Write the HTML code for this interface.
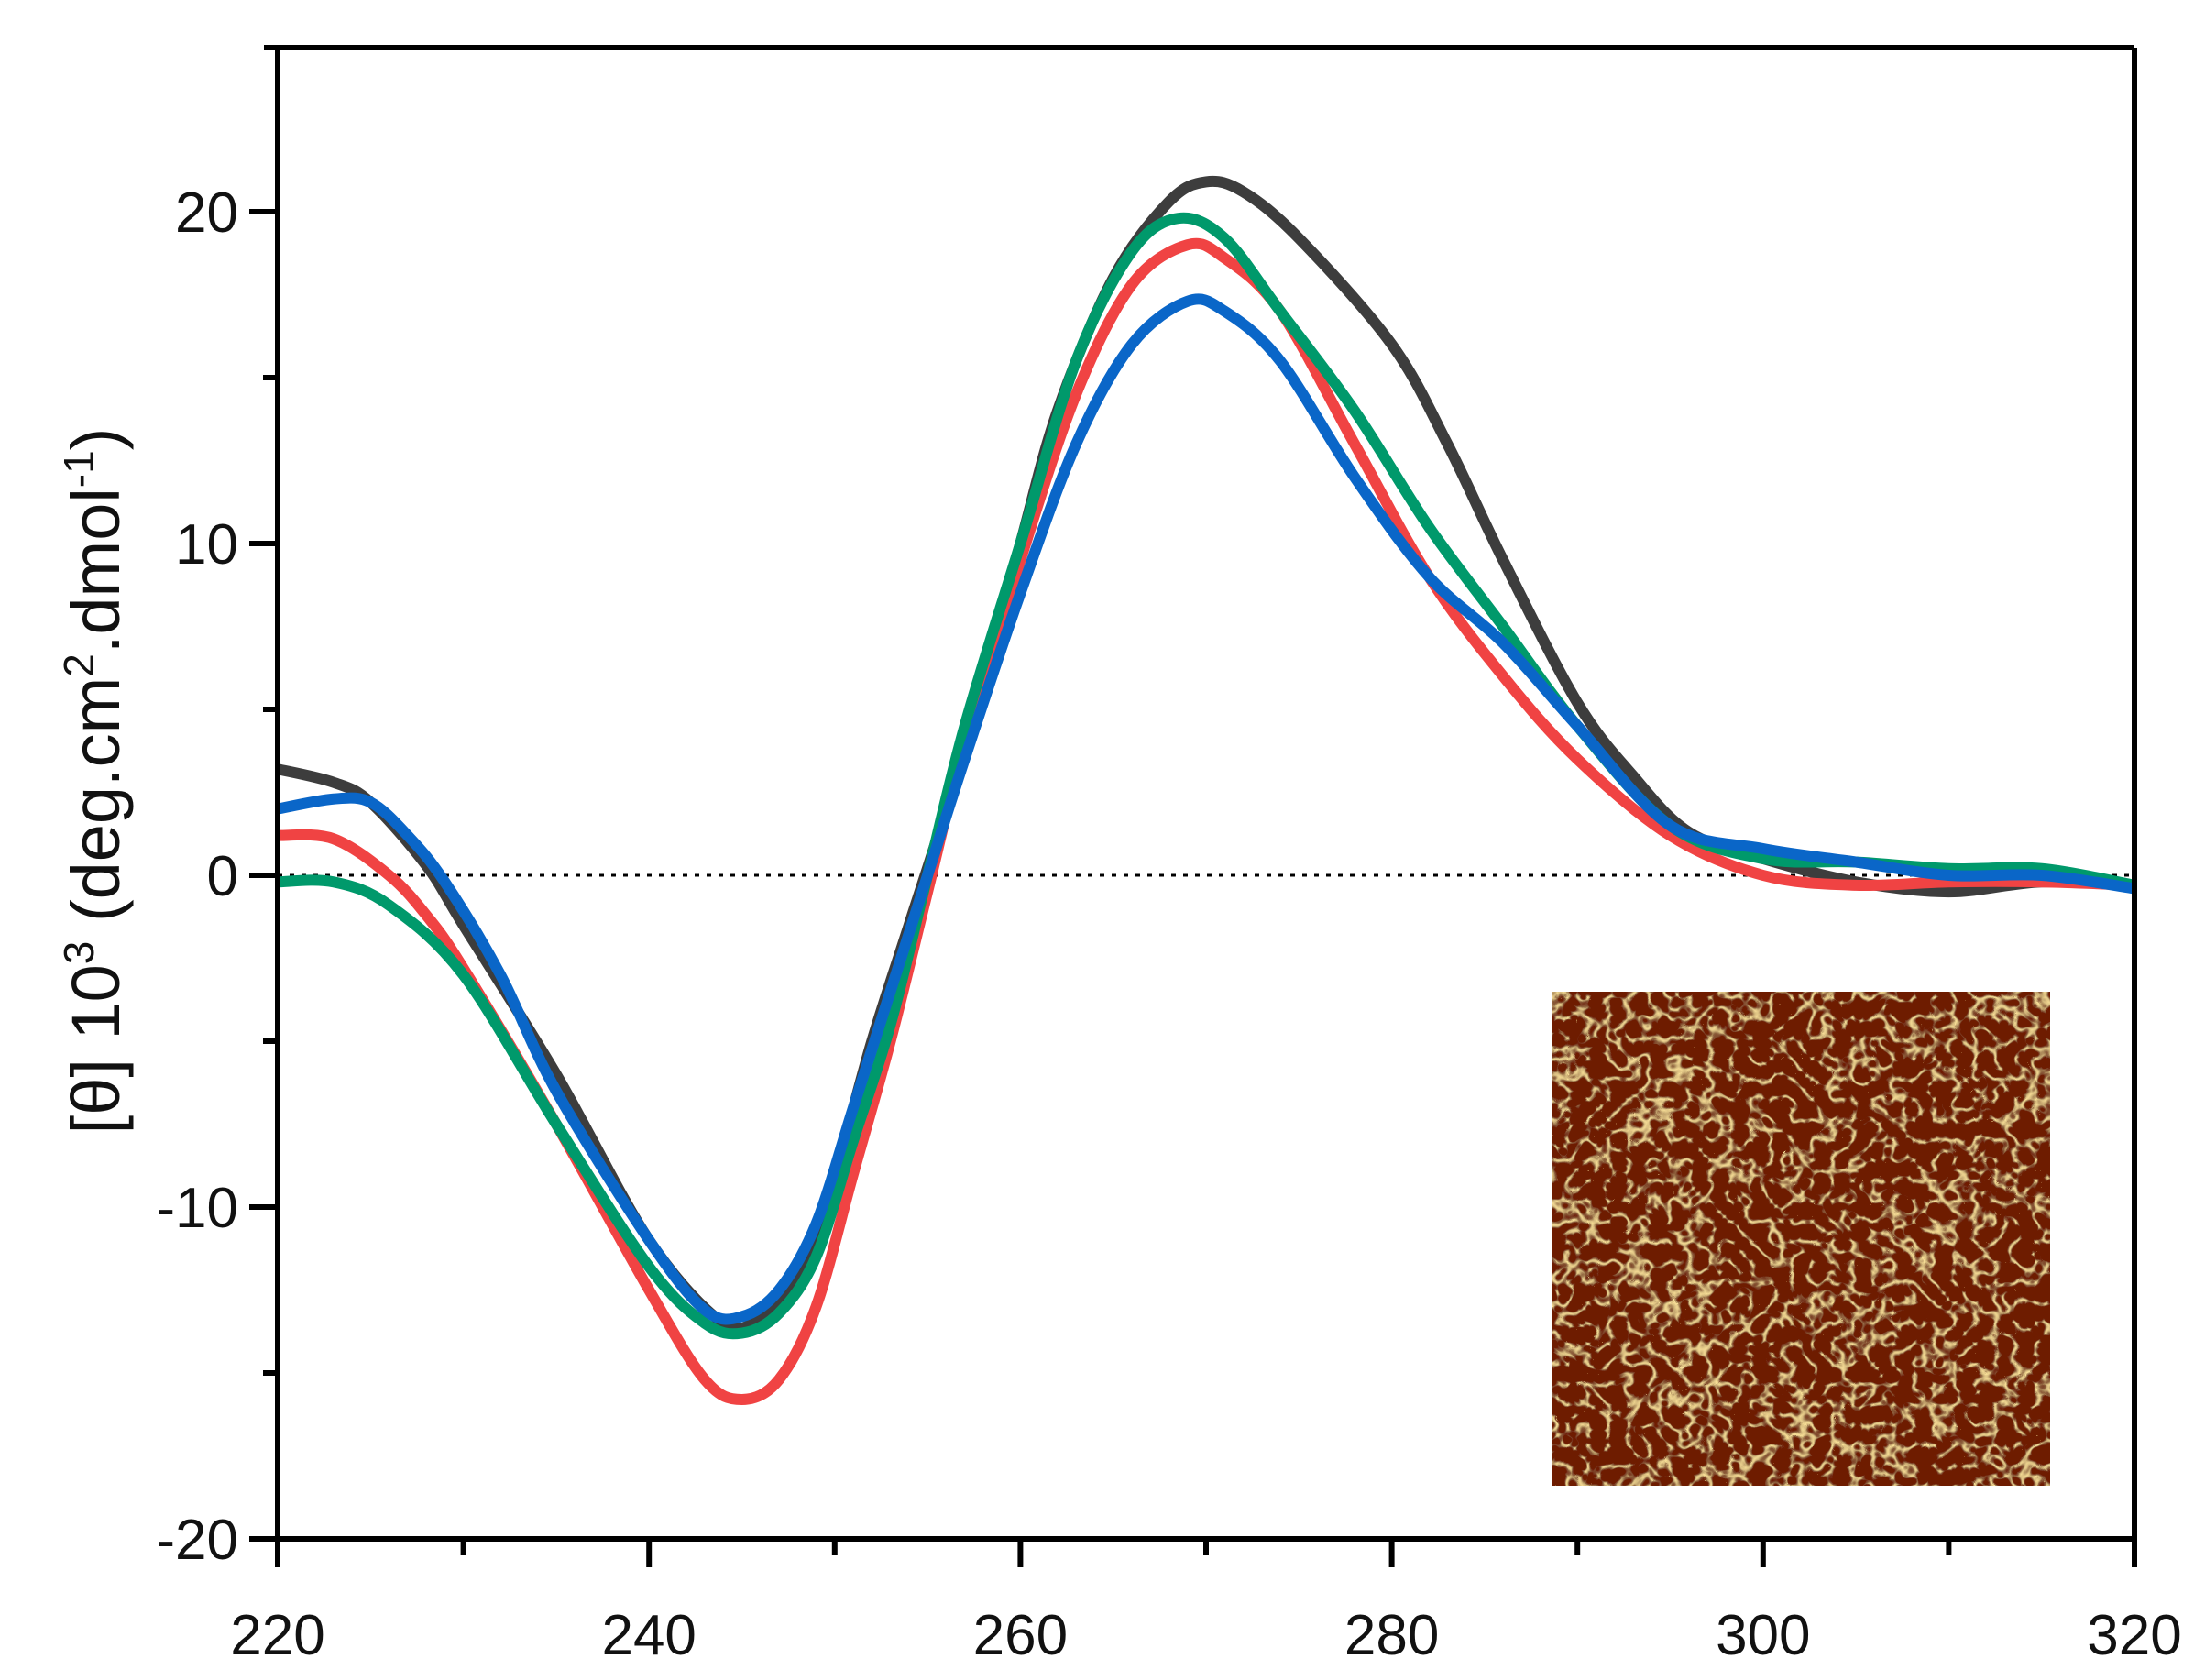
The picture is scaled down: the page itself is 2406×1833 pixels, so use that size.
<!DOCTYPE html>
<html><head><meta charset="utf-8"><style>
html,body{margin:0;padding:0;background:#fff;}
svg{display:block;}
text{font-family:"Liberation Sans",sans-serif;fill:#111;}
</style></head><body>
<svg id="s" width="2406" height="1833" viewBox="0 0 2406 1833" xmlns="http://www.w3.org/2000/svg">
<defs>
<filter id="net" x="0" y="0" width="100%" height="100%">
<feTurbulence type="turbulence" baseFrequency="0.045" numOctaves="2" seed="7" result="t"/>
<feColorMatrix in="t" type="matrix" values="0 0 0 0 0  0 0 0 0 0  0 0 0 0 0  1.3 0 0 0 0" result="a"/>
<feComponentTransfer in="a" result="b"><feFuncA type="table" tableValues="1 0.7 0.15 0 0 0 0 0 0 0 0 0"/></feComponentTransfer>
<feFlood flood-color="#f5dc95" result="c"/>
<feComposite in="c" in2="b" operator="in" result="d"/>
<feFlood flood-color="#6e1e05" result="bg"/>
<feMerge><feMergeNode in="bg"/><feMergeNode in="d"/></feMerge>
</filter>
</defs>
<rect x="1694" y="1082" width="543" height="539" filter="url(#net)"/>
<g id="g"></g>
</svg>
<script>
var X0=303,X1=2329,Y0=955,SY=36.2;
function px(x){return X0+(x-220)*(X1-X0)/100;}
function py(y){return Y0-y*SY;}
var g=document.getElementById('g'),NS='http://www.w3.org/2000/svg';
function el(t,a,txt){var e=document.createElementNS(NS,t);for(var k in a)e.setAttribute(k,a[k]);if(txt!==undefined)e.textContent=txt;g.appendChild(e);return e;}
el('line',{x1:X0,y1:Y0,x2:X1,y2:Y0,stroke:'#000','stroke-width':3,'stroke-dasharray':'5 8'});
var data={
'#3d3d3d':[[220,3.2],[223,2.8],[225,2.2],[228,0.3],[230,-1.5],[235,-6],[240,-11],[244,-13.5],[246,-13.3],[248,-12],[250,-9],[252,-5],[254,-1.5],[256,2],[258,6],[260,10],[262,14],[265,18],[268,20.3],[270,20.9],[272,20.6],[275,19.2],[280,16],[283,13],[286,9.5],[290,5.2],[293,3],[296,1.3],[300,0.5],[305,-0.2],[310,-0.5],[315,-0.2],[320,-0.3]],
'#f04343':[[220,1.2],[223,1.1],[226,0],[228,-1.2],[230,-2.8],[235,-7.5],[240,-12.5],[243,-15.2],[245,-15.8],[247,-15.2],[249,-13],[251,-9],[253,-5],[255,-0.5],[257,4],[260,9.5],[263,14.5],[266,17.8],[269,19],[271,18.6],[274,17],[278,13],[282,9],[286,6],[290,3.5],[295,1.2],[300,0],[305,-0.3],[310,-0.2],[315,-0.2],[320,-0.3]],
'#00996b':[[220,-0.2],[223,-0.2],[226,-0.9],[230,-3],[235,-7.5],[240,-11.8],[243,-13.5],[245,-13.8],[247,-13.2],[249,-11.5],[251,-8],[253,-4.5],[255,0],[257,4.5],[260,10],[263,15.5],[266,18.8],[268.5,19.8],[271,19.2],[274,17],[278,14],[282,10.5],[286,7.5],[290,4.5],[295,1.5],[300,0.5],[305,0.4],[310,0.2],[315,0.2],[320,-0.3]],
'#0a66c8':[[220,2.0],[223,2.3],[225,2.2],[227,1.2],[229,-0.2],[232,-3],[235,-6.5],[240,-11],[243,-13.1],[245,-13.3],[247,-12.5],[249,-10.5],[251,-7],[253,-3.5],[255,0],[257,3.5],[260,8.5],[263,13],[266,16],[269,17.3],[271,17],[274,15.5],[278,12],[282,9],[286,7],[290,4.5],[295,1.5],[300,0.8],[305,0.4],[310,0],[315,0],[320,-0.4]]
};
function path(pts){var p=pts.map(function(q){return [px(q[0]),py(q[1])];});var d='M'+p[0][0]+','+p[0][1];
for(var i=0;i<p.length-1;i++){var a=p[i-1]||p[i],b=p[i],c=p[i+1],e=p[i+2]||c;
d+=' C'+(b[0]+(c[0]-a[0])/6)+','+(b[1]+(c[1]-a[1])/6)+' '+(c[0]-(e[0]-b[0])/6)+','+(c[1]-(e[1]-b[1])/6)+' '+c[0]+','+c[1];}return d;}
['#3d3d3d','#f04343','#00996b','#0a66c8'].forEach(function(c){el('path',{d:path(data[c]),fill:'none',stroke:c,'stroke-width':12,'stroke-linejoin':'round'});});
el('line',{x1:288,y1:52,x2:X1,y2:52,stroke:'#000','stroke-width':6});
el('line',{x1:X0,y1:52,x2:X0,y2:1710,stroke:'#000','stroke-width':6});
el('line',{x1:X1,y1:52,x2:X1,y2:1710,stroke:'#000','stroke-width':6});
el('line',{x1:272,y1:1679,x2:X1,y2:1679,stroke:'#000','stroke-width':6});
for(var x=220;x<=320;x+=10){var maj=(x%20==0);el('line',{x1:px(x),y1:1679,x2:px(x),y2:maj?1710:1697,stroke:'#000','stroke-width':6});
if(maj)el('text',{x:px(x),y:1805,'font-size':62,'text-anchor':'middle'},String(x));}
for(var y=-20;y<=20;y+=5){var maj=(y%10==0);el('line',{x1:maj?272:287,y1:py(y),x2:X0,y2:py(y),stroke:'#000','stroke-width':6});
if(maj)el('text',{x:260,y:py(y)+22,'font-size':62,'text-anchor':'end'},String(y));}
var t=el('text',{transform:'translate(130,852) rotate(-90)','font-size':74,'text-anchor':'middle'});
t.innerHTML='[θ] 10<tspan dy="-28" font-size="46">3</tspan><tspan dy="28"> (deg.cm</tspan><tspan dy="-28" font-size="46">2</tspan><tspan dy="28">.dmol</tspan><tspan dy="-28" font-size="46">-1</tspan><tspan dy="28">)</tspan>';
</script>
</body></html>
